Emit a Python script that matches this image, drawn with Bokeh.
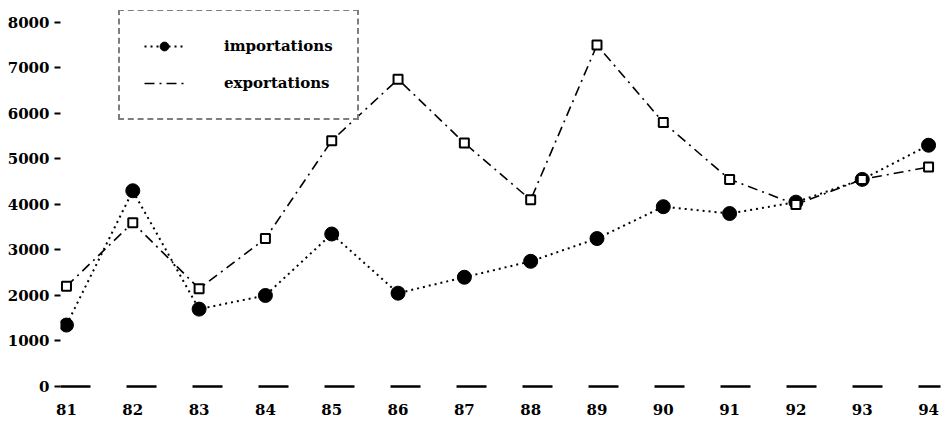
from bokeh.plotting import figure
from bokeh.models import FixedTicker, Legend, LegendItem
from bokeh.embed import file_html
from bokeh.resources import INLINE

years = [81, 82, 83, 84, 85, 86, 87, 88, 89, 90, 91, 92, 93, 94]
year_labels = ["81", "82", "83", "84", "85", "86", "87", "88", "89", "90", "91", "92", "93", "94"]
importations = [1350, 4300, 1700, 2000, 3350, 2050, 2400, 2750, 3250, 3950, 3800, 4050, 4550, 5300]
exportations = [2200, 3600, 2150, 3250, 5400, 6750, 5350, 4100, 7500, 5800, 4550, 4000, 4550, 4820]
y_ticks = [0, 1000, 2000, 3000, 4000, 5000, 6000, 7000, 8000]

FONT = "DejaVu Serif"

p = figure(width=947, height=424, output_backend="svg", toolbar_location=None,
           x_range=(80.91, 94.18), y_range=(0, 8260),
           min_border_left=60, min_border_right=7, min_border_top=10, min_border_bottom=38)
p.outline_line_color = None
p.xgrid.visible = False
p.ygrid.visible = False
p.background_fill_color = "white"
p.border_fill_color = "white"

# axes
p.xaxis.ticker = FixedTicker(ticks=years)
p.xaxis.major_label_overrides = {y: l for y, l in zip(years, year_labels)}
p.xaxis.major_tick_out = 0
p.xaxis.major_tick_in = 0
p.xaxis.minor_tick_out = 0
p.xaxis.minor_tick_in = 0
p.xaxis.axis_line_color = "black"
p.xaxis.axis_line_width = 2.5
p.xaxis.axis_line_dash = "30 36"
p.xaxis.major_label_standoff = 17

p.yaxis.ticker = FixedTicker(ticks=y_ticks)
p.yaxis.axis_line_color = None
p.yaxis.major_tick_out = 6
p.yaxis.major_tick_in = 0
p.yaxis.major_tick_line_width = 2
p.yaxis.minor_tick_out = 0
p.yaxis.minor_tick_in = 0
p.yaxis.major_label_standoff = 5

for ax in (p.xaxis[0], p.yaxis[0]):
    ax.major_label_text_font = FONT
    ax.major_label_text_font_style = "bold"
    ax.major_label_text_font_size = "15px"
    ax.major_label_text_color = "black"

# series
imp_line = p.line(years, importations, line_color="black", line_width=2, line_dash="2 4")
imp_pts = p.scatter(years, importations, marker="circle", size=14,
                    fill_color="black", line_color="black")
exp_line = p.line(years, exportations, line_color="black", line_width=1.6, line_dash="10 5 2 5")
exp_pts = p.scatter(years, exportations, marker="square", size=9,
                    fill_color="white", line_color="black", line_width=2)

legend = Legend(items=[
    LegendItem(label="importations", renderers=[imp_line, imp_pts]),
    LegendItem(label="exportations", renderers=[exp_line]),
], location=(58, 266))
legend.label_text_font = FONT
legend.label_text_font_style = "bold"
legend.label_text_font_size = "15px"
legend.label_text_color = "black"
legend.glyph_width = 40
legend.glyph_height = 22
legend.label_height = 22
legend.label_standoff = 40
legend.spacing = 15
legend.padding = 24
legend.margin = 0
legend.border_line_color = "black"
legend.border_line_width = 2
legend.border_line_dash = "40 30"
legend.background_fill_color = "white"
legend.background_fill_alpha = 1.0
p.add_layout(legend, "center")

open("out.html", "w").write(file_html(p, INLINE))
